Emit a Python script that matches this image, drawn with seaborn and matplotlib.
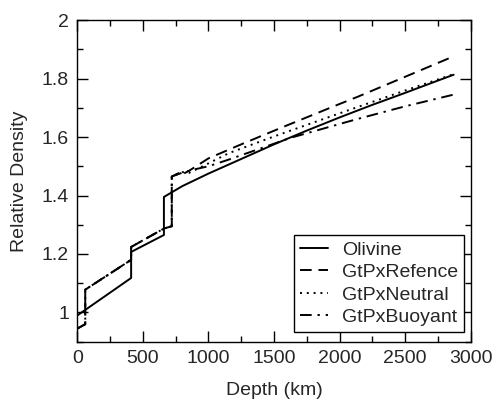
import numpy as np
import pandas as pd
import seaborn as sns
import matplotlib.pyplot as plt
from matplotlib.ticker import MultipleLocator

# Olivine
ol_depth = [0, 410, 410, 660, 660, 800, 1000, 1250, 1500, 1750, 2000, 2250, 2500, 2750, 2870]
ol_rho = [0.99, 1.118, 1.207, 1.265, 1.395, 1.432, 1.475, 1.525, 1.575, 1.622, 1.667, 1.710, 1.751, 1.793, 1.813]

# shared upper mantle part of the GtPx curves
gt_depth = [0, 60, 60, 410, 410, 660, 720, 720]
gt_rho = [0.945, 0.96, 1.078, 1.18, 1.224, 1.287, 1.295, 1.465]

ref_depth = [780, 790, 850, 1000, 1156, 1250, 1400, 1600, 2000, 2140, 2500, 2870]
ref_rho = [1.478, 1.47, 1.484, 1.527, 1.557, 1.575, 1.603, 1.64, 1.713, 1.738, 1.806, 1.876]

neu_depth = [800, 850, 1000, 1080, 1156, 1500, 2000, 2500, 2870]
neu_rho = [1.48, 1.477, 1.51, 1.528, 1.545, 1.602, 1.681, 1.759, 1.815]

buo_depth = [800, 900, 1000, 1156, 1632, 2139, 2500, 2870]
buo_rho = [1.478, 1.49, 1.50, 1.523, 1.598, 1.662, 1.705, 1.745]

sns.set_style("ticks")
plt.rcParams['font.family'] = ['Liberation Sans', 'DejaVu Sans']
plt.rcParams['font.size'] = 14

fig = plt.figure(figsize=(4.96, 4.09), dpi=100)
ax = fig.add_axes([0.156, 0.1645, 0.793, 0.7865])

series = [
    ("Olivine", ol_depth, ol_rho, "-"),
    ("GtPxRefence", gt_depth + ref_depth, gt_rho + ref_rho, (0, (6, 3.5))),
    ("GtPxNeutral", gt_depth + neu_depth, gt_rho + neu_rho, (0, (1, 2.5))),
    ("GtPxBuoyant", gt_depth + buo_depth, gt_rho + buo_rho, (0, (6, 3, 1.2, 3))),
]
for name, d, r, ls in series:
    sns.lineplot(x=d, y=r, ax=ax, color="black", linestyle=ls, linewidth=1.4,
                 estimator=None, sort=False, label=name)

ax.set_xlim(0, 3000)
ax.set_ylim(0.9, 2.0)
ax.xaxis.set_major_locator(MultipleLocator(500))
ax.xaxis.set_minor_locator(MultipleLocator(250))
ax.yaxis.set_minor_locator(MultipleLocator(0.1))
ax.set_yticks([1, 1.2, 1.4, 1.6, 1.8, 2])
ax.set_yticklabels(["1", "1.2", "1.4", "1.6", "1.8", "2"])
ax.tick_params(which="both", direction="in", top=True, right=True, labelsize=14, width=1, color="black")
ax.tick_params(which="major", length=8, pad=6)
ax.tick_params(which="minor", length=4)
for s in ax.spines.values():
    s.set_color("black")
    s.set_linewidth(1)

ax.set_xlabel("Depth (km)", fontsize=14, labelpad=11)
ax.set_ylabel("Relative Density", fontsize=14, labelpad=10)

leg = ax.legend(loc="lower right", bbox_to_anchor=(0.983, 0.03), borderaxespad=0,
                fontsize=14, frameon=True, fancybox=False, edgecolor="black",
                framealpha=1, handlelength=1.45, labelspacing=0.25, borderpad=0.3,
                handletextpad=0.7)
leg.get_frame().set_linewidth(1)

fig.savefig("out.png", dpi=100)
